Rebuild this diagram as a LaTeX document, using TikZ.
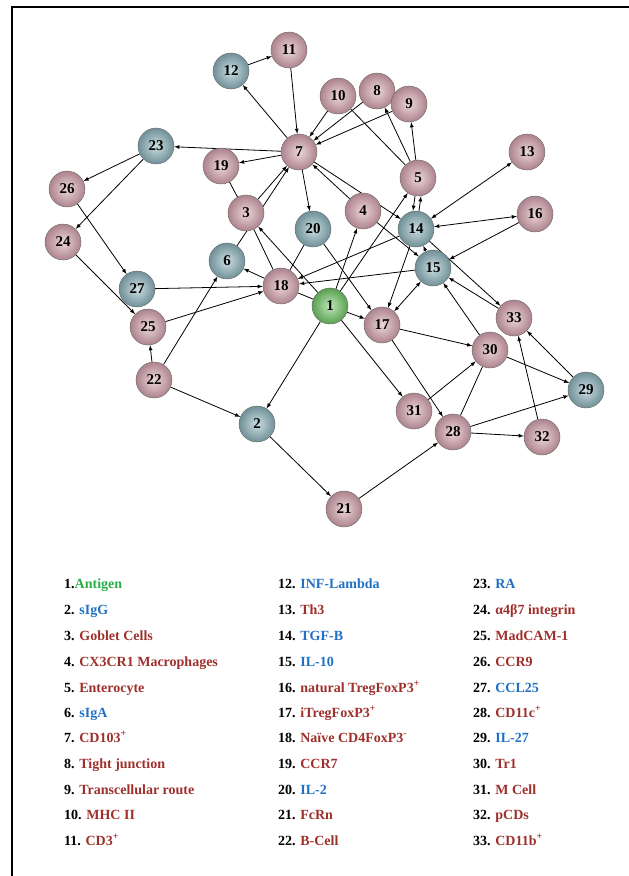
\documentclass[tikz,border=0pt]{standalone}
\usepackage{fontspec}
\setmainfont{Liberation Serif}
\usepackage{tikz}
\usetikzlibrary{arrows}
\usetikzlibrary{shapes}

\definecolor{pinkc}{RGB}{216,164,176}
\definecolor{bluec}{RGB}{140,180,190}
\definecolor{greenc}{RGB}{112,200,100}
\definecolor{txtgreen}{RGB}{40,176,72}
\definecolor{txtblue}{RGB}{32,112,196}
\definecolor{txtred}{RGB}{158,48,44}

\pgfdeclarelayer{background}
\pgfsetlayers{background,main}

\tikzset{
	cell/.style={circle, draw=black!60, thin, minimum size=36pt, inner sep=0pt, font=\bfseries\fontsize{15}{15}\selectfont},
	pinkcell/.style={cell, inner color=pinkc!45!white, outer color=pinkc!80!black},
	bluecell/.style={cell, inner color=bluec!45!white, outer color=bluec!80!black},
	greencell/.style={cell, inner color=greenc!45!white, outer color=greenc!80!black},
	key/.style={anchor=base west, inner sep=0pt, font=\bfseries\fontsize{14}{14}\selectfont}
}

\begin{document}
\begin{tikzpicture}[x=1pt, y=-1pt, >=latex]
				\useasboundingbox (0,0) rectangle (629,876);
				\draw[line width=2pt] (12,876) -- (12,7) -- (629,7);
				
				\node[greencell] (1) at (330,306) {1};
				\node[bluecell] (2) at (257,424) {2};
				\node[pinkcell] (3) at (246,213) {3};
				\node[pinkcell] (4) at (363,211) {4};
				\node[pinkcell] (5) at (418,178) {5};
				\node[bluecell] (6) at (227,261) {6};
				\node[pinkcell] (7) at (299,152) {7};
				\node[pinkcell] (8) at (377,91) {8};
				\node[pinkcell] (9) at (409,104) {9};
				\node[pinkcell] (10) at (338,96) {10};
				\node[pinkcell] (11) at (289,50) {11};
				\node[bluecell] (12) at (231,71) {12};
				\node[pinkcell] (13) at (527,152) {13};
				\node[bluecell] (14) at (416,229) {14};
				\node[bluecell] (15) at (433,268) {15};
				\node[pinkcell] (16) at (535,214) {16};
				\node[pinkcell] (17) at (382,325) {17};
				\node[pinkcell] (18) at (281,286) {18};
				\node[pinkcell] (19) at (221,166) {19};
				\node[bluecell] (20) at (313,229) {20};
				\node[pinkcell] (21) at (344,509) {21};
				\node[pinkcell] (22) at (154,380) {22};
				\node[bluecell] (23) at (156,146) {23};
				\node[pinkcell] (24) at (63,242) {24};
				\node[pinkcell] (25) at (148,327) {25};
				\node[pinkcell] (26) at (67,189) {26};
				\node[bluecell] (27) at (137,289) {27};
				\node[pinkcell] (28) at (453,432) {28};
				\node[bluecell] (29) at (586,390) {29};
				\node[pinkcell] (30) at (490,350) {30};
				\node[pinkcell] (31) at (414,411) {31};
				\node[pinkcell] (32) at (542,437) {32};
				\node[pinkcell] (33) at (514,318) {33};
				
				\begin{pgfonlayer}{background}
				\draw[->, line width=0.8pt]  (12) -- (11);
				\draw[->, line width=0.8pt]  (7) -- (12);
				\draw[->, line width=0.8pt]  (11) -- (7);
				\draw[->, line width=0.8pt]  (7) -- (23);
				\draw[->, line width=0.8pt]  (7) -- (19);
				\draw[->, line width=0.8pt]  (23) -- (26);
				\draw[->, line width=0.8pt]  (23) -- (24);
				\draw[->, line width=0.8pt]  (26) -- (27);
				\draw[->, line width=0.8pt]  (24) -- (25);
				\draw[->, line width=0.8pt]  (27) -- (18);
				\draw[->, line width=0.8pt]  (25) -- (18);
				\draw[->, line width=0.8pt]  (22) -- (25);
				\draw[->, line width=0.8pt]  (22) -- (6);
				\draw[->, line width=0.8pt]  (22) -- (2);
				\draw[->, line width=0.8pt]  (1) -- (2);
				\draw[->, line width=0.8pt]  (2) -- (21);
				\draw[->, line width=0.8pt]  (21) -- (28);
				\draw[->, line width=0.8pt]  (3) -- (7);
				\draw[->, line width=0.8pt]  (6) -- (7);
				\draw[line width=0.8pt]  (19) -- (3);
				\draw[line width=0.8pt]  (3) -- (18);
				\draw[->, line width=0.8pt]  (1) -- (3);
				\draw[->, line width=0.8pt]  (10) -- (7);
				\draw[->, line width=0.8pt]  (8) -- (7);
				\draw[->, line width=0.8pt]  (9) -- (7);
				\draw[line width=0.8pt]  (10) -- (5);
				\draw[->, line width=0.8pt]  (5) -- (8);
				\draw[->, line width=0.8pt]  (5) -- (9);
				\draw[->, line width=0.8pt]  (7) -- (20);
				\draw[->, line width=0.8pt]  (4) -- (7);
				\draw[->, line width=0.8pt]  (7) -- (14);
				\draw[->, line width=0.8pt]  (4) -- (15);
				\draw[->, line width=0.8pt]  (1) -- (4);
				\draw[->, line width=0.8pt]  (1) -- (5);
				\draw[->, line width=0.8pt]  ([xshift=-3pt]5.south) -- ([xshift=-3pt]14.north);
				\draw[->, line width=0.8pt]  ([xshift=3pt]14.north) -- ([xshift=3pt]5.south);
				\draw[<->, line width=0.8pt]  (13) -- (14);
				\draw[<->, line width=0.8pt]  (14) -- (16);
				\draw[->, line width=0.8pt]  (16) -- (15);
				\draw[->, line width=0.8pt]  (14) -- (18);
				\draw[->, line width=0.8pt]  (15) -- (18);
				\draw[->, line width=0.8pt]  (15) -- (14);
				\draw[->, line width=0.8pt]  (14) -- (17);
				\draw[<->, line width=0.8pt]  (17) -- (15);
				\draw[->, line width=0.8pt]  (1) -- (17);
				\draw[->, line width=0.8pt]  (20) -- (17);
				\draw[line width=0.8pt]  (20) -- (18);
				\draw[->, line width=0.8pt]  (18) -- (6);
				\draw[line width=0.8pt]  (18) -- (1);
				\draw[->, line width=0.8pt]  (1) -- (31);
				\draw[->, line width=0.8pt]  (17) -- (30);
				\draw[->, line width=0.8pt]  (17) -- (28);
				\draw[->, line width=0.8pt]  (31) -- (30);
				\draw[line width=0.8pt]  (28) -- (30);
				\draw[->, line width=0.8pt]  (30) -- (15);
				\draw[->, line width=0.8pt]  (14) -- (33);
				\draw[->, line width=0.8pt]  (33) -- (15);
				\draw[->, line width=0.8pt]  (30) -- (29);
				\draw[->, line width=0.8pt]  (29) -- (33);
				\draw[->, line width=0.8pt]  (32) -- (33);
				\draw[->, line width=0.8pt]  (28) -- (32);
				\draw[->, line width=0.8pt]  (28) -- (29);
				\end{pgfonlayer}
				
				% key
				\node[key] (k1) at (64,588) {1.\textcolor{txtgreen}{Antigen}};
				\node[key] (k2) at (64,614) {2. \textcolor{txtblue}{sIgG}};
				\node[key] (k3) at (64,640) {3. \textcolor{txtred}{Goblet Cells}};
				\node[key] (k4) at (64,666) {4. \textcolor{txtred}{CX3CR1 Macrophages}};
				\node[key] (k5) at (64,692) {5. \textcolor{txtred}{Enterocyte}};
				\node[key] (k6) at (64,717) {6. \textcolor{txtblue}{sIgA}};
				\node[key] (k7) at (64,742) {7. \textcolor{txtred}{CD103\textsuperscript{+}}};
				\node[key] (k8) at (64,768) {8. \textcolor{txtred}{Tight junction}};
				\node[key] (k9) at (64,794) {9. \textcolor{txtred}{Transcellular route}};
				\node[key] (k10) at (64,819) {10. \textcolor{txtred}{MHC II}};
				\node[key] (k11) at (64,845) {11. \textcolor{txtred}{CD3\textsuperscript{+}}};
				
				\node[key] (k12) at (278,588) {12. \textcolor{txtblue}{INF-Lambda}};
				\node[key] (k13) at (278,614) {13. \textcolor{txtred}{Th3}};
				\node[key] (k14) at (278,640) {14. \textcolor{txtblue}{TGF-B}};
				\node[key] (k15) at (278,666) {15. \textcolor{txtblue}{IL-10}};
				\node[key] (k16) at (278,692) {16. \textcolor{txtred}{natural TregFoxP3\textsuperscript{+}}};
				\node[key] (k17) at (278,717) {17. \textcolor{txtred}{iTregFoxP3\textsuperscript{+}}};
				\node[key] (k18) at (278,742) {18. \textcolor{txtred}{Naïve CD4FoxP3\textsuperscript{-}}};
				\node[key] (k19) at (278,768) {19. \textcolor{txtred}{CCR7}};
				\node[key] (k20) at (278,794) {20. \textcolor{txtblue}{IL-2}};
				\node[key] (k21) at (278,819) {21. \textcolor{txtred}{FcRn}};
				\node[key] (k22) at (278,845) {22. \textcolor{txtred}{B-Cell}};
				
				\node[key] (k23) at (473,588) {23. \textcolor{txtblue}{RA}};
				\node[key] (k24) at (473,614) {24. \textcolor{txtred}{α4β7 integrin}};
				\node[key] (k25) at (473,640) {25. \textcolor{txtred}{MadCAM-1}};
				\node[key] (k26) at (473,666) {26. \textcolor{txtred}{CCR9}};
				\node[key] (k27) at (473,692) {27. \textcolor{txtblue}{CCL25}};
				\node[key] (k28) at (473,717) {28. \textcolor{txtred}{CD11c\textsuperscript{+}}};
				\node[key] (k29) at (473,742) {29. \textcolor{txtblue}{IL-27}};
				\node[key] (k30) at (473,768) {30. \textcolor{txtred}{Tr1}};
				\node[key] (k31) at (473,794) {31. \textcolor{txtred}{M Cell}};
				\node[key] (k32) at (473,819) {32. \textcolor{txtred}{pCDs}};
				\node[key] (k33) at (473,845) {33. \textcolor{txtred}{CD11b\textsuperscript{+}}};
			\end{tikzpicture}
\end{document}
